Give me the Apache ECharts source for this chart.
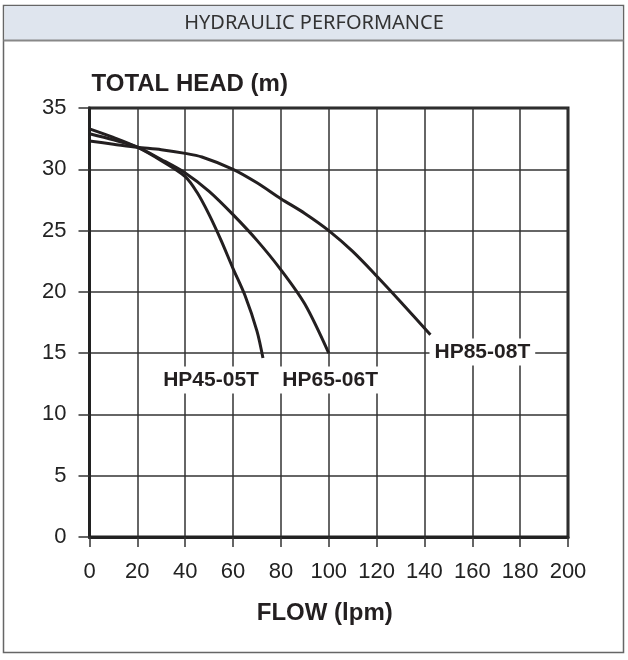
<!DOCTYPE html>
<html>
<head>
<meta charset="utf-8">
<style>
  html, body { margin: 0; padding: 0; background: #fff; }
  #main { width: 628px; height: 660px; }
</style>
<script src="https://cdn.jsdelivr.net/npm/echarts@6/dist/echarts.min.js"></script>
</head>
<body>
<div id="main"></div>
<script>
// pump curves: [flow lpm, head m]
var hp45 = [[0, 33.3], [10, 32.6], [20, 31.8], [30, 30.7], [40, 29.4], [45, 28.1], [50, 26.3],
            [55, 24.2], [60, 21.9], [65, 19.7], [70, 16.8], [72.5, 14.6]];
var hp65 = [[0, 32.9], [10, 32.4], [20, 31.8], [30, 30.8], [40, 29.7], [50, 28.2], [60, 26.3],
            [70, 24.2], [80, 21.8], [90, 19.0], [100, 15.0]];
var hp85 = [[0, 32.3], [10, 32.05], [20, 31.8], [30, 31.6], [40, 31.3], [47, 31.0], [60, 30.0],
            [70, 28.9], [80, 27.6], [90, 26.4], [100, 25.0], [110, 23.3], [120, 21.3],
            [130, 19.2], [142.5, 16.5]];

// curve names and where their labels sit
var pumpNames = ['HP45-05T', 'HP65-06T', 'HP85-08T'];
var labelPos = [[50.8, 12.8], [100.6, 12.8], [164.2, 15.1]];

var myChart = echarts.init(document.getElementById('main'));

var ink = '#231f20';
var gridLine = { color: '#333', width: 1.5 };

var curveSeries = [hp45, hp65, hp85].map(function (d, i) {
    return {
        name: pumpNames[i],
        type: 'line',
        data: d,
        smooth: 0.3,
        symbol: 'none',
        lineStyle: { color: ink, width: 3 },
        z: 3
    };
});

var labelSeries = {
    type: 'scatter',
    symbolSize: 0,
    silent: true,
    z: 4,
    itemStyle: { opacity: 1 },
    data: labelPos.map(function (p, i) {
        return { name: pumpNames[i], value: p };
    }),
    label: {
        show: true,
        position: 'inside',
        formatter: '{b}',
        fontFamily: 'Liberation Sans',
        fontWeight: 'bold',
        fontSize: 21,
        color: ink,
        opacity: 1,
        backgroundColor: '#fff',
        padding: [3, 5]
    }
};

var option = {
    animation: false,
    backgroundColor: '#fff',
    graphic: [
        {
            type: 'rect',
            shape: { x: 3.5, y: 5.5, width: 620, height: 647 },
            style: { fill: '#fff', stroke: '#666', lineWidth: 1.5 },
            z: -10
        },
        {
            type: 'rect',
            shape: { x: 4.5, y: 6, width: 618, height: 34.5 },
            style: { fill: '#dfe5ee', stroke: null },
            z: -9
        },
        {
            type: 'line',
            shape: { x1: 3.5, y1: 40.5, x2: 623.5, y2: 40.5 },
            style: { stroke: '#888', lineWidth: 2 },
            z: -8
        },
        {
            type: 'text',
            x: 314, y: 23,
            style: {
                text: 'HYDRAULIC PERFORMANCE',
                fontFamily: 'Noto Sans',
                fontSize: 20,
                fill: '#333',
                align: 'center',
                verticalAlign: 'middle'
            }
        }
    ],
    grid: {
        left: 89.5, right: 60, top: 108, bottom: 123,
        show: true,
        borderColor: '#222',
        borderWidth: 3
    },
    xAxis: {
        type: 'value',
        min: 0, max: 200, interval: 20,
        name: 'FLOW (lpm)',
        nameLocation: 'middle',
        nameGap: 76,
        nameTextStyle: {
            fontFamily: 'Liberation Sans', fontWeight: 'bold', fontSize: 24,
            color: ink, verticalAlign: 'middle', padding: [0, 8, 0, 0]
        },
        axisLine: { show: true, lineStyle: { color: '#222', width: 3 } },
        axisTick: { show: true, length: 10, lineStyle: gridLine },
        axisLabel: {
            margin: 24, fontFamily: 'Liberation Sans', fontSize: 22, color: '#222'
        },
        splitLine: { show: true, lineStyle: gridLine }
    },
    yAxis: {
        type: 'value',
        min: 0, max: 35, interval: 5,
        name: 'TOTAL HEAD (m)',
        nameLocation: 'end',
        nameGap: 24,
        nameTextStyle: {
            fontFamily: 'Liberation Sans', fontWeight: 'bold', fontSize: 24,
            color: ink, align: 'left', verticalAlign: 'middle', padding: [0, 0, 0, 2]
        },
        axisLine: { show: true, lineStyle: { color: '#222', width: 3 } },
        axisTick: { show: true, length: 11, lineStyle: gridLine },
        axisLabel: {
            margin: 23, fontFamily: 'Liberation Sans', fontSize: 22, color: '#222'
        },
        splitLine: { show: true, lineStyle: gridLine }
    },
    series: curveSeries.concat([labelSeries])
};

myChart.setOption(option);
</script>
</body>
</html>
